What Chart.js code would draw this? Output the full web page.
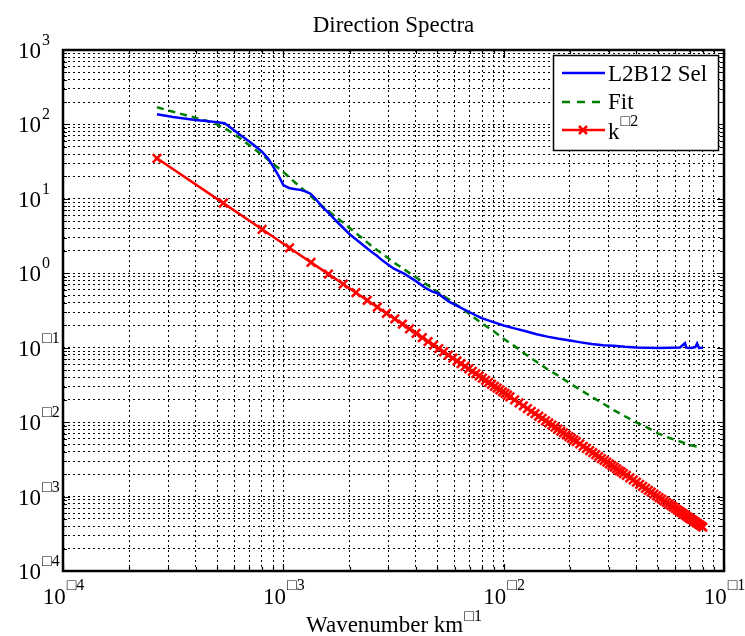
<!DOCTYPE html>
<html>
<head>
<meta charset="utf-8">
<title>Direction Spectra</title>
<script src="https://cdn.jsdelivr.net/npm/chart.js@4.4.1/dist/chart.umd.min.js"></script>
<style>
  html, body { margin: 0; padding: 0; background: #fff; }
  #chart { display: block; }
</style>
</head>
<body>
<canvas id="chart" width="745" height="636"></canvas>
<script>
// L2B12 Sel (observed spectrum)
const kSel = [0.000267, 0.000316, 0.000355, 0.000398, 0.000447, 0.000501, 0.00054, 0.000562, 0.000631, 0.000708,
  0.000794, 0.000851, 0.000891, 0.000955, 0.001, 0.00106, 0.00112, 0.00119, 0.00126, 0.00133,
  0.00141, 0.0015, 0.00158, 0.00178, 0.002, 0.00224, 0.00251, 0.00266, 0.00282, 0.00316,
  0.00355, 0.00398, 0.00447, 0.00473, 0.00501, 0.00562, 0.00631, 0.00708, 0.00794, 0.00891,
  0.01, 0.0112, 0.0126, 0.0141, 0.0158, 0.0178, 0.02, 0.0224, 0.0251, 0.0282,
  0.0316, 0.0355, 0.0398, 0.0447, 0.0501, 0.0562, 0.0631, 0.0665, 0.0675, 0.0708,
  0.0741, 0.0755, 0.077, 0.0803];
const ySel = [137, 126, 120, 115, 111, 107, 104, 96, 74, 57.5,
  44, 35, 28.5, 20, 15.3, 14.0, 13.6, 13.2, 12.6, 11.7,
  9.8, 7.8, 6.8, 4.7, 3.35, 2.55, 1.95, 1.72, 1.48, 1.16,
  0.98, 0.79, 0.62, 0.57, 0.54, 0.42, 0.35, 0.295, 0.25, 0.222,
  0.199, 0.182, 0.166, 0.152, 0.141, 0.132, 0.125, 0.118, 0.112, 0.108,
  0.106, 0.103, 0.101, 0.100, 0.099, 0.100, 0.101, 0.115, 0.100, 0.099,
  0.102, 0.114, 0.099, 0.100];

// Fit
const kFit = [0.000267, 0.000316, 0.000355, 0.000398, 0.000447, 0.000501, 0.000562, 0.000631, 0.000708, 0.000794,
  0.000891, 0.001, 0.00112, 0.00126, 0.00141, 0.00158, 0.00178, 0.002, 0.00224, 0.00251,
  0.00282, 0.00316, 0.00355, 0.00398, 0.00447, 0.00501, 0.00562, 0.00631, 0.00708, 0.00794,
  0.00891, 0.01, 0.0112, 0.0126, 0.0141, 0.0158, 0.0178, 0.02, 0.0224, 0.0251,
  0.0282, 0.0316, 0.0355, 0.0398, 0.0447, 0.0501, 0.0562, 0.0631, 0.0708, 0.0759];
const yFit = [170, 148, 135, 123, 112, 100, 83.2, 66.1, 51.3, 39.8,
  30.2, 22.9, 17.0, 12.6, 9.33, 7.08, 5.37, 4.07, 3.09, 2.34,
  1.82, 1.41, 1.12, 0.891, 0.708, 0.562, 0.447, 0.355, 0.275, 0.214,
  0.170, 0.132, 0.105, 0.0813, 0.0646, 0.0513, 0.0417, 0.0331, 0.0269, 0.0219,
  0.0178, 0.0145, 0.0120, 0.0100, 0.00851, 0.00708, 0.00617, 0.00550, 0.00490, 0.00468];

// k^-2 reference
const kRef = [0.000267, 0.000534, 0.000801, 0.001068, 0.001335, 0.001602, 0.001869, 0.002136, 0.002403, 0.00267,
  0.002937, 0.003204, 0.003471, 0.003738, 0.004005, 0.004272, 0.004539, 0.004806, 0.005073, 0.00534,
  0.005607, 0.005874, 0.006141, 0.006408, 0.006675, 0.006942, 0.007209, 0.007476, 0.007743, 0.00801,
  0.008277, 0.008544, 0.008811, 0.009078, 0.009345, 0.009612, 0.009879, 0.01015, 0.01041, 0.01068,
  0.01121, 0.01175, 0.01228, 0.01282, 0.01335, 0.01388, 0.01442, 0.01495, 0.01549, 0.01602,
  0.01655, 0.01709, 0.01762, 0.01816, 0.01869, 0.01922, 0.01976, 0.02029, 0.02083, 0.02136,
  0.02216, 0.02296, 0.02376, 0.02456, 0.02537, 0.02617, 0.02697, 0.02777, 0.02857, 0.02937,
  0.03017, 0.03097, 0.03177, 0.03257, 0.03338, 0.03418, 0.03498,
  0.03605, 0.03738, 0.03872, 0.04005, 0.04139, 0.04272, 0.04406, 0.04539, 0.04673, 0.04806,
  0.0494, 0.05073, 0.05207, 0.0534, 0.05474, 0.05607, 0.05741, 0.05874, 0.06008, 0.06141,
  0.06275, 0.06408, 0.06542, 0.06675, 0.06809, 0.06942, 0.07076, 0.07209, 0.07343, 0.07476,
  0.0761, 0.07743, 0.07877, 0.0801];
const yRef = [35.1, 8.77, 3.90, 2.19, 1.40, 0.974, 0.716, 0.548, 0.433, 0.351,
  0.290, 0.244, 0.208, 0.179, 0.156, 0.137, 0.121, 0.108, 0.0971, 0.0877,
  0.0795, 0.0725, 0.0663, 0.0609, 0.0561, 0.0519, 0.0481, 0.0447, 0.0417, 0.0390,
  0.0365, 0.0342, 0.0322, 0.0303, 0.0286, 0.0271, 0.0256, 0.0243, 0.0231, 0.0219,
  0.0199, 0.0181, 0.0166, 0.0152, 0.0140, 0.0130, 0.0120, 0.0112, 0.0104, 0.00974,
  0.00912, 0.00856, 0.00805, 0.00758, 0.00716, 0.00677, 0.00640, 0.00607, 0.00576, 0.00548,
  0.00509, 0.00474, 0.00443, 0.00414, 0.00389, 0.00365, 0.00344, 0.00324, 0.00306, 0.00290,
  0.00275, 0.00261, 0.00248, 0.00236, 0.00224, 0.00214, 0.00204,
  0.00192, 0.00179, 0.00167, 0.00156, 0.00146, 0.00137, 0.00129, 0.00121, 0.00115, 0.00108,
  0.00102, 0.000971, 0.000922, 0.000877, 0.000835, 0.000795, 0.000759, 0.000725, 0.000693, 0.000663,
  0.000635, 0.000609, 0.000584, 0.000561, 0.000539, 0.000519, 0.000499, 0.000481, 0.000464, 0.000447,
  0.000432, 0.000417, 0.000403, 0.000390];

// axes: decades and their labels (exponent part, as printed)
const xDecades = [-4, -3, -2, -1];
const xExpLabels = ['\u25A14', '\u25A13', '\u25A12', '\u25A11'];
const yDecades = [-4, -3, -2, -1, 0, 1, 2, 3];
const yExpLabels = ['\u25A14', '\u25A13', '\u25A12', '\u25A11', '0', '1', '2', '3'];

const seriesNames = ['L2B12 Sel', 'Fit', 'k'];
const SERIF = '"Liberation Serif", "Times New Roman", serif';

// 1..9 x 10^e for every decade, plus the last decade itself
function logTicks(decades) {
  let out = [];
  for (let d = 0; d < decades.length - 1; d++) {
    for (let m = 1; m <= 9; m++) out.push({ value: m * Math.pow(10, decades[d]) });
  }
  out.push({ value: Math.pow(10, decades[decades.length - 1]) });
  return out;
}

function isDecade(v) {
  let l = Math.log10(v);
  return Math.abs(l - Math.round(l)) < 1e-6;
}

function pairs(ks, ys) {
  return ks.map((k, i) => ({ x: k, y: ys[i] }));
}

// "10" with a superscript, baseline at y
function drawPow(ctx, base, sup, x, y, mode, baseSize, supSize, lift) {
  ctx.font = baseSize + 'px ' + SERIF;
  let wb = ctx.measureText(base).width;
  ctx.font = supSize + 'px ' + SERIF;
  let ws = ctx.measureText(sup).width;
  let x0;
  if (mode === 'center') x0 = x - (wb + ws) / 2;
  else if (mode === 'baseRight') x0 = x - wb;
  else x0 = x;
  ctx.textAlign = 'left';
  ctx.textBaseline = 'alphabetic';
  ctx.font = baseSize + 'px ' + SERIF;
  ctx.fillText(base, x0, y);
  ctx.font = supSize + 'px ' + SERIF;
  ctx.fillText(sup, x0 + wb + 1, y - lift);
}

const decorations = {
  id: 'decorations',
  afterDraw(chart) {
    const ctx = chart.ctx;
    const a = chart.chartArea;
    const xs = chart.scales.x, ys = chart.scales.y;
    ctx.save();
    ctx.fillStyle = '#000';
    ctx.strokeStyle = '#000';

    // tick marks inside the box
    ctx.lineWidth = 1.2;
    ctx.beginPath();
    xs.ticks.forEach(t => {
      let px = Math.round(xs.getPixelForValue(t.value)) + 0.5;
      let len = isDecade(t.value) ? 7 : 4;
      ctx.moveTo(px, a.bottom); ctx.lineTo(px, a.bottom - len);
      ctx.moveTo(px, a.top); ctx.lineTo(px, a.top + len);
    });
    ys.ticks.forEach(t => {
      let py = Math.round(ys.getPixelForValue(t.value)) + 0.5;
      let len = isDecade(t.value) ? 7 : 4;
      ctx.moveTo(a.left, py); ctx.lineTo(a.left + len, py);
      ctx.moveTo(a.right, py); ctx.lineTo(a.right - len, py);
    });
    ctx.stroke();

    // axes box
    ctx.lineWidth = 2.5;
    ctx.strokeRect(a.left, a.top, a.right - a.left, a.bottom - a.top);

    // tick labels
    xDecades.forEach((e, i) => {
      let px = xs.getPixelForValue(Math.pow(10, e));
      drawPow(ctx, '10', xExpLabels[i], px, 604, 'center', 23, 16, 14);
    });
    yDecades.forEach((e, i) => {
      let py = ys.getPixelForValue(Math.pow(10, e));
      drawPow(ctx, '10', yExpLabels[i], 41, py + 8, 'baseRight', 23, 16, 13);
    });

    // title and axis label
    ctx.font = '23px ' + SERIF;
    ctx.textAlign = 'center';
    ctx.fillText('Direction Spectra', (a.left + a.right) / 2, 32);
    drawPow(ctx, 'Wavenumber km', '\u25A11', (a.left + a.right) / 2, 632, 'center', 23, 16, 11);

    // legend
    const lx = 553.5, ly = 55.5, lw = 165, lh = 95;
    ctx.fillStyle = '#fff';
    ctx.fillRect(lx, ly, lw, lh);
    ctx.lineWidth = 1.5;
    ctx.strokeStyle = '#000';
    ctx.strokeRect(lx, ly, lw, lh);
    const rows = [73, 102, 130];
    const ds = chart.data.datasets;
    rows.forEach((ry, i) => {
      ctx.save();
      ctx.strokeStyle = ds[i].borderColor;
      ctx.lineWidth = ds[i].borderWidth;
      ctx.setLineDash(i === 1 ? [8, 7] : []);
      ctx.beginPath();
      ctx.moveTo(562, ry); ctx.lineTo(605, ry);
      ctx.stroke();
      ctx.restore();
    });
    // legend marker for k^-2
    ctx.save();
    ctx.strokeStyle = ds[2].borderColor;
    ctx.lineWidth = 2.5;
    ctx.beginPath();
    ctx.moveTo(579, 126); ctx.lineTo(587, 134);
    ctx.moveTo(587, 126); ctx.lineTo(579, 134);
    ctx.stroke();
    ctx.restore();

    ctx.fillStyle = '#000';
    ctx.textAlign = 'left';
    ctx.font = '23px ' + SERIF;
    ctx.fillText(seriesNames[0], 608, 81);
    ctx.fillText(seriesNames[1], 608, 109);
    drawPow(ctx, seriesNames[2], '\u25A12', 608, 139, 'left', 23, 16, 13);
    ctx.restore();
  }
};

const gridOpts = { color: '#000', lineWidth: 1, drawTicks: false };
const borderOpts = { display: false, dash: [2, 3] };

new Chart(document.getElementById('chart').getContext('2d'), {
  type: 'line',
  data: {
    datasets: [
      {
        label: 'L2B12 Sel',
        data: pairs(kSel, ySel),
        borderColor: '#0000ff',
        borderWidth: 2.5,
        pointRadius: 0,
        tension: 0
      },
      {
        label: 'Fit',
        data: pairs(kFit, yFit),
        borderColor: '#008000',
        borderWidth: 2.5,
        borderDash: [7, 5],
        pointRadius: 0,
        tension: 0
      },
      {
        label: 'k^-2',
        data: pairs(kRef, yRef),
        borderColor: '#ff0000',
        backgroundColor: '#ff0000',
        borderWidth: 2.5,
        pointStyle: 'crossRot',
        pointRadius: 6,
        pointBorderWidth: 2.5,
        pointBorderColor: '#ff0000',
        tension: 0
      }
    ]
  },
  options: {
    responsive: false,
    animation: false,
    devicePixelRatio: 1,
    layout: { padding: { left: 63, top: 50, right: 21, bottom: 65 } },
    plugins: {
      legend: { display: false },
      tooltip: { enabled: false },
      title: { display: false }
    },
    scales: {
      x: {
        type: 'logarithmic',
        min: 1e-4,
        max: 1e-1,
        afterBuildTicks: s => { s.ticks = logTicks(xDecades); },
        ticks: { display: false },
        grid: gridOpts,
        border: borderOpts
      },
      y: {
        type: 'logarithmic',
        min: 1e-4,
        max: 1e3,
        afterBuildTicks: s => { s.ticks = logTicks(yDecades); },
        ticks: { display: false },
        grid: gridOpts,
        border: borderOpts
      }
    }
  },
  plugins: [decorations]
});
</script>
</body>
</html>
